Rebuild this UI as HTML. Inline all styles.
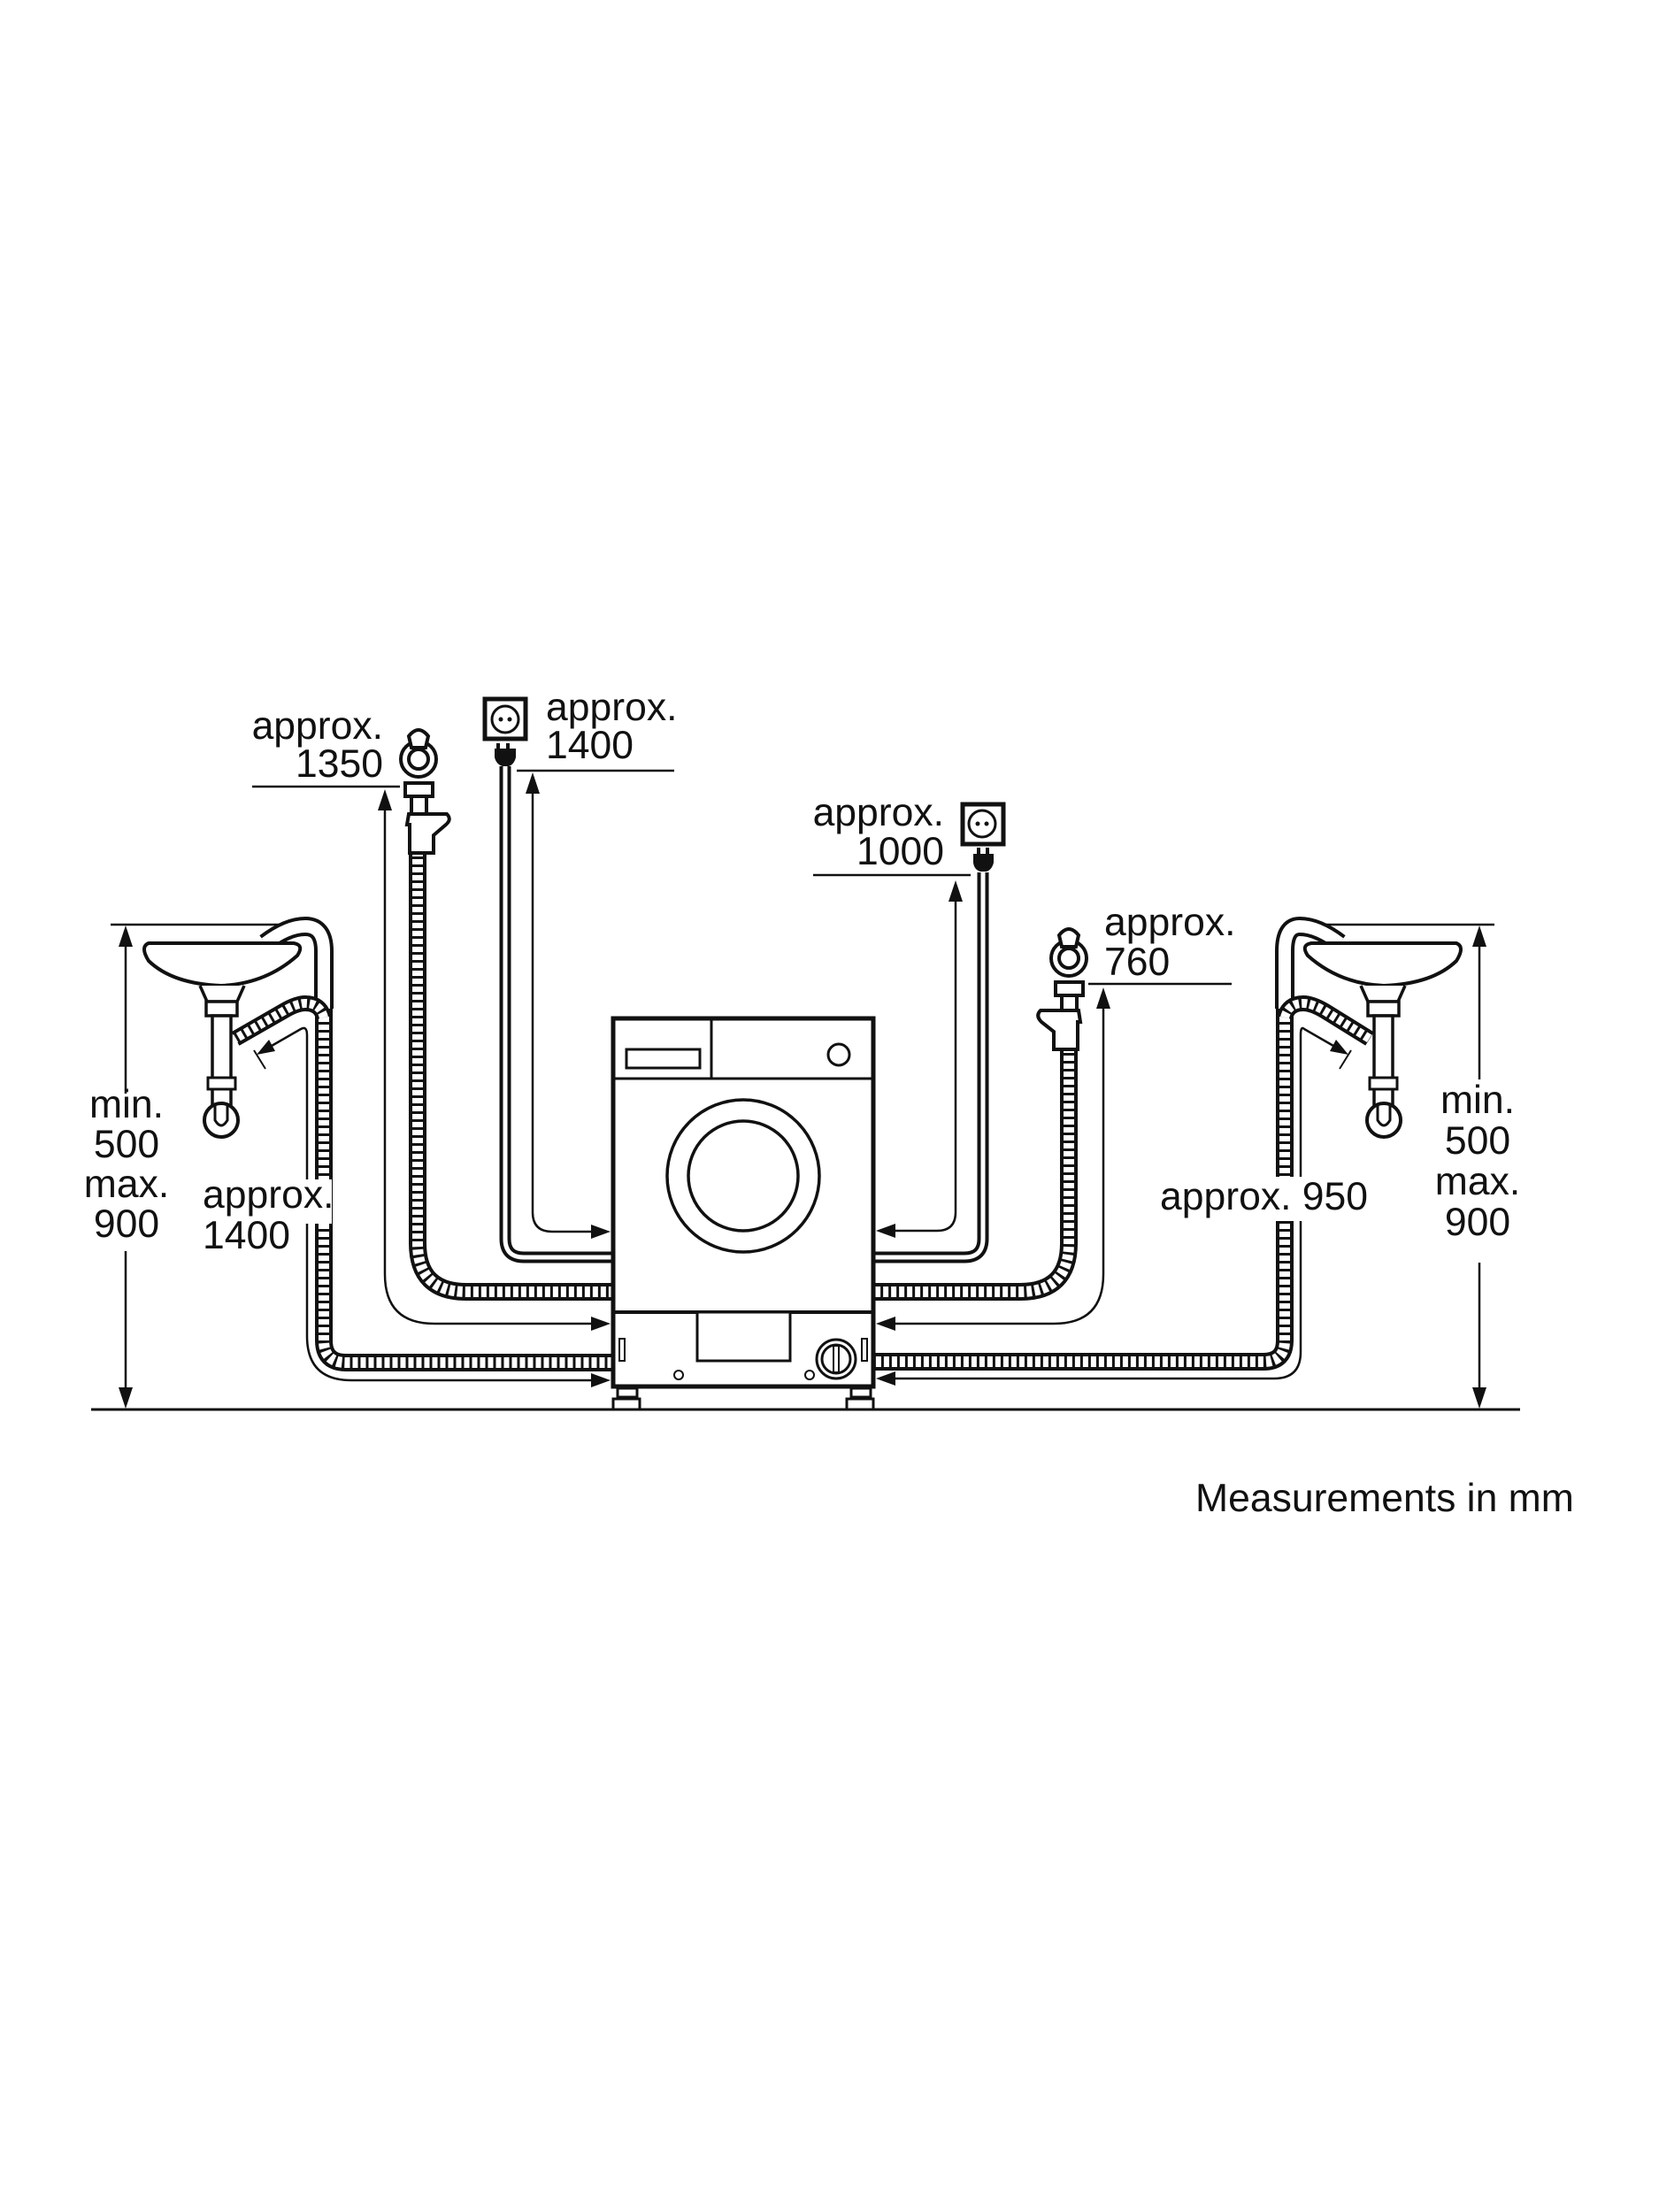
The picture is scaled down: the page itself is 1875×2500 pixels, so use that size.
<!DOCTYPE html>
<html><head><meta charset="utf-8"><style>
html,body{margin:0;padding:0;background:#fff;}
svg{display:block;}
text{font-family:"Liberation Sans",Arial,sans-serif;font-size:44.5px;fill:#111;}
</style></head><body>
<svg width="1875" height="2500" viewBox="0 0 1875 2500" xmlns="http://www.w3.org/2000/svg">
<rect width="1875" height="2500" fill="#fff"/>
<g fill="none" stroke="#111" stroke-linecap="butt">

<line x1="103" y1="1593" x2="1718" y2="1593" stroke-width="3"/>

<line x1="285" y1="889" x2="452" y2="889" stroke-width="2.5"/>
<line x1="584" y1="871" x2="762" y2="871" stroke-width="2.5"/>
<line x1="919" y1="989" x2="1097" y2="989" stroke-width="2.5"/>
<line x1="1230" y1="1112" x2="1392" y2="1112" stroke-width="2.5"/>
<line x1="125" y1="1045" x2="321" y2="1045" stroke-width="2.5"/>
<line x1="1493" y1="1045" x2="1689" y2="1045" stroke-width="2.5"/>
<line x1="142" y1="1060" x2="142" y2="1236" stroke-width="2.5"/>
<line x1="142" y1="1414" x2="142" y2="1578" stroke-width="2.5"/>
<line x1="1672" y1="1060" x2="1672" y2="1220" stroke-width="2.5"/>
<line x1="1672" y1="1427" x2="1672" y2="1578" stroke-width="2.5"/>

<path d="M435 905 V1440 Q435 1496 491 1496 H672" stroke-width="2.5"/>
<path d="M602 885 V1370 Q602 1392 624 1392 H672" stroke-width="2.5"/>
<path d="M1080 1005 V1370 Q1080 1391 1059 1391 H1008" stroke-width="2.5"/>
<path d="M1247 1127 V1440 Q1247 1496 1191 1496 H1008" stroke-width="2.5"/>
<path d="M300 1186 L340 1163 Q347 1159 347 1170 V1510 Q347 1560 397 1560 H672" stroke-width="2.5"/>
<path d="M1514 1186 L1474 1163 Q1470 1159 1470 1170 V1528 Q1470 1558 1440 1558 H1008" stroke-width="2.5"/>
<line x1="287" y1="1187" x2="300" y2="1208" stroke-width="2"/>
<line x1="1527" y1="1187" x2="1514" y2="1208" stroke-width="2"/>

<path d="M571 866 V1400 Q571 1421 592 1421 H693" stroke-width="13"/>
<path d="M571 866 V1400 Q571 1421 592 1421 H693" stroke="#fff" stroke-width="5"/>
<path d="M1111 986 V1400 Q1111 1421 1090 1421 H987" stroke-width="13"/>
<path d="M1111 986 V1400 Q1111 1421 1090 1421 H987" stroke="#fff" stroke-width="5"/>

<path d="M472 962 V1405 Q472 1460 527 1460 H693" stroke-width="20"/>
<path d="M472 962 V1405 Q472 1460 527 1460 H693" stroke="#fff" stroke-width="12" stroke-dasharray="6 3"/>
<path d="M1208 1184 V1405 Q1208 1460 1153 1460 H987" stroke-width="20"/>
<path d="M1208 1184 V1405 Q1208 1460 1153 1460 H987" stroke="#fff" stroke-width="12" stroke-dasharray="6 3"/>

<path d="M300 1066 Q325 1047 345 1047 Q366 1047 366 1075 V1140" stroke-width="22"/>
<path d="M300 1066 Q325 1047 345 1047 Q366 1047 366 1075 V1140" stroke="#fff" stroke-width="14"/>
<path d="M366 1140 V1515 Q366 1540 391 1540 H693" stroke-width="20"/>
<path d="M366 1140 V1515 Q366 1540 391 1540 H693" stroke="#fff" stroke-width="12" stroke-dasharray="6 3"/>
<path d="M366 1150 Q362 1134 345 1134 Q335 1134 320 1143 L266 1174" stroke-width="18"/>
<path d="M366 1150 Q362 1134 345 1134 Q335 1134 320 1143 L266 1174" stroke="#fff" stroke-width="10" stroke-dasharray="6 3"/>

<path d="M1514 1066 Q1489 1047 1469 1047 Q1452 1047 1452 1075 V1140" stroke-width="22"/>
<path d="M1514 1066 Q1489 1047 1469 1047 Q1452 1047 1452 1075 V1140" stroke="#fff" stroke-width="14"/>
<path d="M1452 1140 V1515 Q1452 1539 1428 1539 H987" stroke-width="20"/>
<path d="M1452 1140 V1515 Q1452 1539 1428 1539 H987" stroke="#fff" stroke-width="12" stroke-dasharray="6 3"/>
<path d="M1452 1150 Q1456 1134 1473 1134 Q1483 1134 1498 1143 L1548 1174" stroke-width="18"/>
<path d="M1452 1150 Q1456 1134 1473 1134 Q1483 1134 1498 1143 L1548 1174" stroke="#fff" stroke-width="10" stroke-dasharray="6 3"/>

<path d="M168 1066 H332 Q344 1068 336 1080 Q300 1112 250 1114 Q195 1112 168 1086 Q158 1070 168 1066 Z" fill="#fff" stroke-width="4"/>
<path d="M226 1114 L234 1132 H268 L276 1114" fill="#fff" stroke-width="3.5"/>
<rect x="233" y="1132" width="35" height="16" fill="#fff" stroke-width="3.5"/>
<rect x="240" y="1148" width="21" height="105" fill="#fff" stroke-width="3.5"/>
<rect x="235" y="1218" width="31" height="13" fill="#fff" stroke-width="3"/>
<circle cx="250" cy="1266" r="19" fill="#fff" stroke-width="4"/>
<path d="M243 1250 V1266 Q250 1278 257 1266 V1250" fill="#fff" stroke-width="3"/>

<path d="M1646 1066 H1482 Q1470 1068 1478 1080 Q1514 1112 1564 1114 Q1619 1112 1646 1086 Q1656 1070 1646 1066 Z" fill="#fff" stroke-width="4"/>
<path d="M1588 1114 L1580 1132 H1546 L1538 1114" fill="#fff" stroke-width="3.5"/>
<rect x="1546" y="1132" width="35" height="16" fill="#fff" stroke-width="3.5"/>
<rect x="1553" y="1148" width="21" height="105" fill="#fff" stroke-width="3.5"/>
<rect x="1548" y="1218" width="31" height="13" fill="#fff" stroke-width="3"/>
<circle cx="1564" cy="1266" r="19" fill="#fff" stroke-width="4"/>
<path d="M1557 1250 V1266 Q1564 1278 1571 1266 V1250" fill="#fff" stroke-width="3"/>

<g fill="#fff" stroke-width="4">
<circle cx="473" cy="858" r="20"/>
<circle cx="473" cy="858" r="11"/>
<path d="M465 845 L462 832 Q473 818 484 832 L481 845 Z"/>
<rect x="458" y="885" width="31" height="15"/>
<rect x="465" y="900" width="17" height="20"/>
<path d="M462 920 H505 Q511 926 504 932 L490 944 V964 H463 V932 H460 Z"/>
</g>
<g fill="#fff" stroke-width="4">
<circle cx="1208" cy="1083" r="20"/>
<circle cx="1208" cy="1083" r="11"/>
<path d="M1200 1070 L1197 1057 Q1208 1043 1219 1057 L1216 1070 Z"/>
<rect x="1193" y="1110" width="31" height="15"/>
<rect x="1200" y="1125" width="17" height="17"/>
<path d="M1219 1142 H1176 Q1170 1148 1177 1155 L1191 1166 V1186 H1218 V1155 H1221 Z"/>
</g>

<rect x="548" y="790" width="46" height="45" stroke-width="5"/>
<circle cx="571" cy="813" r="15" stroke-width="3"/>
<rect x="1088" y="909" width="46" height="45" stroke-width="5"/>
<circle cx="1110" cy="931" r="15" stroke-width="3"/>
</g>
<g fill="#111">
<circle cx="566" cy="813" r="2.5"/><circle cx="576" cy="813" r="2.5"/>
<circle cx="1105" cy="931" r="2.5"/><circle cx="1115" cy="931" r="2.5"/>
<path d="M561 840 h4 v7 h-4z M572 840 h4 v7 h-4z"/>
<path d="M559 846 h24 v10 q-2 8 -8 10 h-7 q-7 -2 -9 -10z"/>
<path d="M1104 958 h4 v8 h-4z M1114 958 h4 v8 h-4z"/>
<path d="M1100 965 h23 v10 q-2 8 -8 10 h-7 q-7 -2 -8 -10z"/>
<polygon points="435,892 427,916 443,916"/>
<polygon points="602,873 594,897 610,897"/>
<polygon points="1080,995 1072,1019 1088,1019"/>
<polygon points="1247,1116 1239,1140 1255,1140"/>
<polygon points="142,1046 134,1070 150,1070"/>
<polygon points="142,1592 134,1568 150,1568"/>
<polygon points="1672,1046 1664,1070 1680,1070"/>
<polygon points="1672,1592 1664,1568 1680,1568"/>
<polygon points="690,1392 668,1384 668,1400"/>
<polygon points="690,1496 668,1488 668,1504"/>
<polygon points="690,1560 668,1552 668,1568"/>
<polygon points="990,1391 1012,1383 1012,1399"/>
<polygon points="990,1496 1012,1488 1012,1504"/>
<polygon points="990,1558 1012,1550 1012,1566"/>
<polygon points="290,1192 304,1175 311,1188"/>
<polygon points="1524,1192 1510,1175 1503,1188"/>
</g>

<g fill="#fff" stroke="#111">
<rect x="693" y="1151" width="294" height="416" stroke-width="5"/>
<line x1="693" y1="1219" x2="987" y2="1219" stroke-width="3"/>
<line x1="804" y1="1151" x2="804" y2="1219" stroke-width="3"/>
<rect x="708" y="1186" width="83" height="21" stroke-width="3"/>
<circle cx="948" cy="1192" r="12" stroke-width="3"/>
<circle cx="840" cy="1329" r="86" stroke-width="3.5"/>
<circle cx="840" cy="1329" r="62" stroke-width="3.5"/>
<line x1="693" y1="1483" x2="987" y2="1483" stroke-width="4"/>
<rect x="788" y="1483" width="105" height="55" stroke-width="3"/>
<rect x="700" y="1513" width="6" height="25" stroke-width="2"/>
<rect x="974" y="1513" width="6" height="25" stroke-width="2"/>
<circle cx="945" cy="1536" r="22" stroke-width="3"/>
<circle cx="945" cy="1536" r="16" stroke-width="3"/>
<rect x="942" y="1521" width="6" height="30" stroke-width="2"/>
<circle cx="767" cy="1554" r="5" stroke-width="2"/>
<circle cx="915" cy="1554" r="5" stroke-width="2"/>
<rect x="698" y="1569" width="22" height="10" stroke-width="3"/>
<rect x="693" y="1581" width="30" height="12" stroke-width="3"/>
<rect x="962" y="1569" width="22" height="10" stroke-width="3"/>
<rect x="957" y="1581" width="30" height="12" stroke-width="3"/>
</g>

<rect x="225" y="1333" width="150" height="50" fill="#fff"/>
<rect x="1305" y="1330" width="190" height="50" fill="#fff"/>

<g>
<text x="433" y="835" text-anchor="end">approx.</text>
<text x="433" y="878" text-anchor="end">1350</text>
<text x="617" y="814">approx.</text>
<text x="617" y="857">1400</text>
<text x="1067" y="933" text-anchor="end">approx.</text>
<text x="1067" y="977" text-anchor="end">1000</text>
<text x="1248" y="1057">approx.</text>
<text x="1248" y="1102">760</text>
<text x="229" y="1365">approx.</text>
<text x="229" y="1411">1400</text>
<text x="1311" y="1367">approx. 950</text>
<text x="143" y="1263" text-anchor="middle">min.</text>
<text x="143" y="1308" text-anchor="middle">500</text>
<text x="143" y="1353" text-anchor="middle">max.</text>
<text x="143" y="1398" text-anchor="middle">900</text>
<text x="1670" y="1258" text-anchor="middle">min.</text>
<text x="1670" y="1304" text-anchor="middle">500</text>
<text x="1670" y="1350" text-anchor="middle">max.</text>
<text x="1670" y="1396" text-anchor="middle">900</text>
<text x="1351" y="1708">Measurements in mm</text>
</g>
</svg>
</body></html>
